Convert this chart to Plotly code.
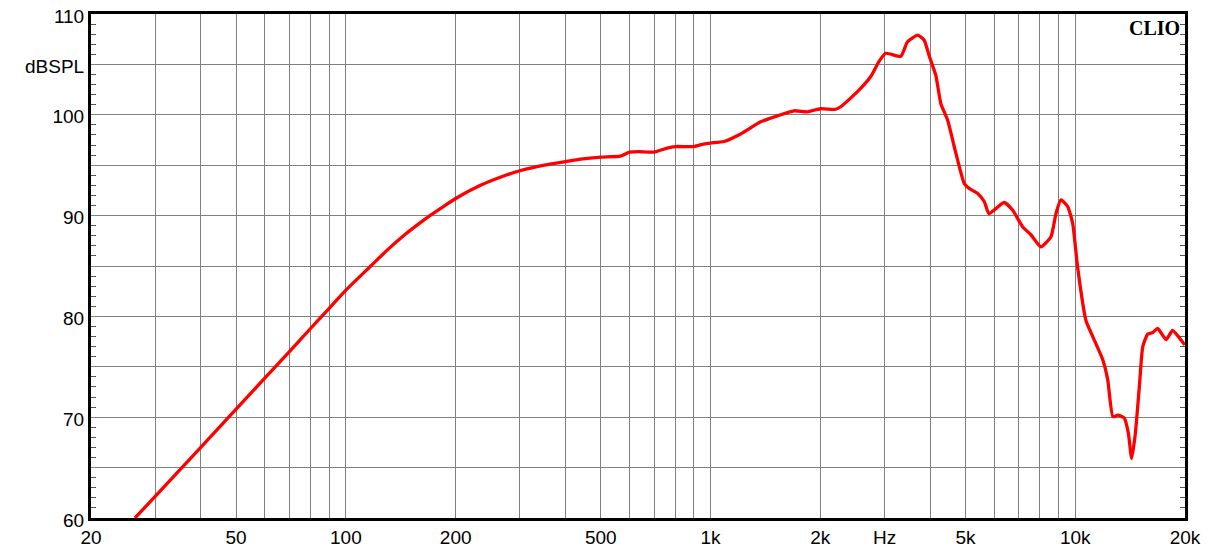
import numpy as np
import plotly.graph_objects as go

# Frequency response data (Hz, dBSPL)
freq_hz = [26.4, 30, 40, 50, 60, 70, 80, 90, 100, 117, 130, 145, 160, 170, 185, 200, 234,
           265, 300, 350, 400, 440, 500, 566, 600, 635, 700, 760, 800, 900, 957, 1000, 1088,
           1209, 1372, 1525, 1694, 1842, 2000, 2204, 2275, 2529, 2750, 2898, 3024, 3325,
           3468, 3702, 3853, 3980, 4148, 4281, 4465, 4706, 4960, 5118, 5400, 5630, 5800,
           6380, 6734, 7170, 7560, 8055, 8580, 8856, 9140, 9536, 9843, 10150, 10700, 11170,
           11900, 12280, 12690, 13090, 13640, 13990, 14280, 14620, 14990, 15320, 15810,
           16320, 16830, 17750, 18500, 19850, 20000]
spl_db = [60.0, 62.15, 67.0, 70.8, 73.9, 76.5, 78.8, 80.8, 82.6, 85.0, 86.6, 88.1, 89.3,
          90.0, 90.9, 91.7, 93.0, 93.8, 94.45, 95.0, 95.35, 95.6, 95.8, 95.9, 96.3, 96.35,
          96.3, 96.7, 96.85, 96.85, 97.1, 97.2, 97.35, 98.1, 99.3, 99.9, 100.4, 100.3,
          100.6, 100.55, 100.8, 102.3, 103.8, 105.3, 106.1, 105.8, 107.25, 107.9, 107.4,
          105.8, 103.9, 101.1, 99.5, 96.2, 93.2, 92.7, 92.2, 91.4, 90.2, 91.3, 90.55, 88.9,
          88.1, 86.9, 87.9, 90.2, 91.55, 90.9, 89.2, 84.9, 79.6, 78.0, 75.7, 73.7, 70.05,
          70.2, 69.9, 68.4, 65.9, 68.4, 73.0, 77.0, 78.25, 78.4, 78.8, 77.7, 78.6, 77.3,
          77.2]

# Axis ticks / grid
x_tickvals = [20, 30, 40, 50, 60, 70, 80, 90, 100, 200, 300, 400, 500, 600, 700, 800, 900,
              1000, 2000, 3000, 4000, 5000, 6000, 7000, 8000, 9000, 10000, 20000]
x_ticktext = ["20", "", "", "50", "", "", "", "", "100", "200", "", "", "500", "", "", "", "",
              "1k", "2k", "Hz", "", "5k", "", "", "", "", "10k", "20k"]
y_tickvals = [60, 65, 70, 75, 80, 85, 90, 95, 100, 105, 110]
y_ticktext = ["60", "", "70", "", "80", "", "90", "", "100", "dBSPL", "110"]
y_minor = [v for v in range(61, 110) if v % 5 != 0]

grid_color = "#808080"
font = dict(family="Liberation Sans, Arial, sans-serif", size=19, color="black")

fig = go.Figure()
fig.add_trace(go.Scatter(x=freq_hz, y=spl_db, mode="lines",
                         line=dict(color="#ff0000", width=3.3, shape="spline", smoothing=0.5),
                         hoverinfo="skip", showlegend=False))
# invisible trace to carry the right-side axis (mirrored minor ticks)
fig.add_trace(go.Scatter(x=freq_hz, y=spl_db, mode="lines", yaxis="y2",
                         line=dict(color="rgba(0,0,0,0)", width=0),
                         hoverinfo="skip", showlegend=False))

# the page body adds an 8px offset, so the figure is sized/margined to compensate
fig.update_layout(
    width=1206, height=542,
    margin=dict(l=83, r=29, t=6, b=32, autoexpand=False),
    paper_bgcolor="white", plot_bgcolor="white",
    font=font,
    xaxis=dict(type="log", range=[np.log10(20), np.log10(20000)], automargin=False,
               tickmode="array", tickvals=x_tickvals, ticktext=x_ticktext,
               ticklabeloverflow="allow",
               showgrid=True, gridcolor=grid_color, gridwidth=1.3,
               ticks="", showline=True, linecolor="black", linewidth=3, mirror=True,
               zeroline=False, tickfont=font),
    yaxis=dict(range=[60, 110], tickmode="array", tickvals=y_tickvals, ticktext=y_ticktext,
               automargin=False, ticklabeloverflow="allow", ticklabelshift=2,
               showgrid=True, gridcolor=grid_color, gridwidth=1.3,
               ticks="", showline=True, linecolor="black", linewidth=3, mirror=True,
               zeroline=False, tickfont=font,
               minor=dict(tickmode="array", tickvals=y_minor, ticks="inside", ticklen=5,
                          tickcolor="#555555", tickwidth=1, showgrid=False)),
    yaxis2=dict(range=[60, 110], overlaying="y", side="right", showticklabels=False,
                automargin=False,
                showgrid=False, zeroline=False, ticks="", tickmode="array", tickvals=y_tickvals,
                minor=dict(tickmode="array", tickvals=y_minor, ticks="inside", ticklen=5,
                           tickcolor="#555555", tickwidth=1, showgrid=False)),
    annotations=[dict(text="<b>CLIO</b>", xref="paper", yref="paper", x=0.997, y=0.998,
                      xanchor="right", yanchor="top", showarrow=False,
                      font=dict(family="Liberation Serif, Times New Roman, serif", size=20,
                                color="black"))],
)

fig.write_html("out.html")
